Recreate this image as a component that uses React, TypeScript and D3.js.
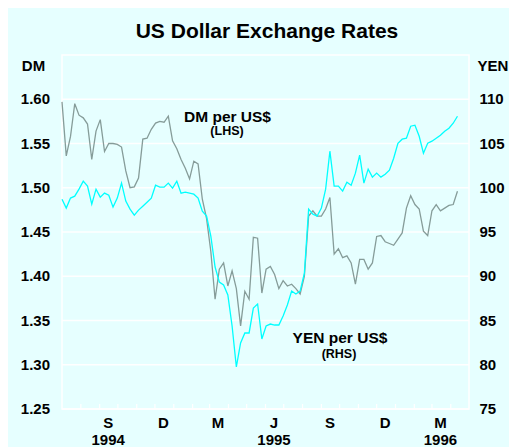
import React from "react";
import * as d3 from "d3";

const width = 509;
const height = 439;
const plot = { left: 54, right: 461, top: 47, bottom: 401 };

// weekly observations starting 1 July 1994
const startDate = new Date(1994, 6, 1);
const endDate = new Date(1996, 4, 1);

const dmPerUsd = [
  1.597, 1.536, 1.558, 1.595, 1.582, 1.579, 1.572, 1.532, 1.564, 1.577,
  1.541, 1.55, 1.55, 1.549, 1.546, 1.519, 1.5, 1.501, 1.511, 1.555,
  1.556, 1.566, 1.573, 1.575, 1.574, 1.581, 1.553, 1.544, 1.532, 1.522,
  1.51, 1.53, 1.527, 1.487, 1.465, 1.428, 1.374, 1.408, 1.415, 1.389,
  1.406, 1.386, 1.344, 1.383, 1.374, 1.444, 1.443, 1.381, 1.408, 1.411,
  1.402, 1.386, 1.395, 1.389, 1.391, 1.386, 1.38, 1.4, 1.468, 1.474,
  1.468, 1.468, 1.476, 1.489, 1.425, 1.431, 1.421, 1.423, 1.415, 1.391,
  1.419, 1.419, 1.408, 1.415, 1.445, 1.446, 1.439, 1.437, 1.435, 1.442,
  1.449, 1.477, 1.491, 1.481, 1.476, 1.451, 1.446, 1.474, 1.481, 1.474,
  1.477, 1.48, 1.481, 1.496,
];

const yenPerUsd = [
  98.71, 97.7, 98.83, 99.05, 99.84, 100.74, 100.18, 98.15, 99.84, 98.94,
  99.39, 99.16, 97.81, 98.83, 100.52, 98.49, 97.58, 96.91, 97.47, 97.92,
  98.37, 98.83, 100.29, 100.07, 100.07, 100.52, 99.95, 100.74, 99.39, 99.5,
  99.39, 99.27, 98.83, 97.36, 96.8, 94.54, 91.04, 89.34, 89.01, 87.88,
  84.38, 79.75, 82.46, 83.59, 83.59, 86.41, 86.86, 82.91, 84.38, 84.6,
  84.49, 84.49, 85.51, 86.75, 88.33, 87.99, 88.33, 90.36, 97.58, 97.02,
  96.8, 97.7, 99.84, 104.13, 100.18, 100.18, 99.62, 100.63, 100.29, 101.65,
  103.68, 100.52, 102.1, 101.2, 101.65, 101.2, 101.53, 101.99, 103.34, 105.03,
  105.49, 105.6, 106.95, 107.07, 105.82, 103.9, 105.03, 105.26, 105.6, 105.94,
  106.39, 106.73, 107.29, 108.08,
];

const dmTicks = [1.25, 1.3, 1.35, 1.4, 1.45, 1.5, 1.55, 1.6];
const yenTicks = [75, 80, 85, 90, 95, 100, 105, 110];
const monthLabels = ["S", "D", "M", "J", "S", "D", "M"];
const yearLabels = ["1994", "", "", "1995", "", "", "1996"];

const font = "'Liberation Sans', Arial, sans-serif";

export default function App() {
  const xScale = d3
    .scaleTime()
    .domain([startDate, endDate])
    .range([plot.left, plot.right]);
  const yLeft = d3
    .scaleLinear()
    .domain([1.25, 1.65])
    .range([plot.bottom, plot.top]);
  const yRight = d3
    .scaleLinear()
    .domain([75, 115])
    .range([plot.bottom, plot.top]);

  const weekDate = (i: number) => d3.timeDay.offset(startDate, i * 7);

  const dmLine = d3
    .line<number>()
    .x((d, i) => xScale(weekDate(i)))
    .y(d => yLeft(d));
  const yenLine = d3
    .line<number>()
    .x((d, i) => xScale(weekDate(i)))
    .y(d => yRight(d));

  const monthTicks = d3.timeMonth.range(new Date(1994, 7, 1), endDate);
  // every third month from September 1994
  const labelMonths = d3.timeMonth.range(
    new Date(1994, 8, 1),
    new Date(1996, 3, 1),
    3
  );

  return (
    <svg width={width} height={height} style={{ display: "block" }}>
      <rect x={0} y={0} width={width} height={height} fill="#e6ffff" />
      <text
        x={259}
        y={29.5}
        textAnchor="middle"
        fontFamily={font}
        fontWeight="bold"
        fontSize={21}
      >
        US Dollar Exchange Rates
      </text>
      <text x={25.5} y={63} textAnchor="middle" fontFamily={font} fontWeight="bold" fontSize={15}>
        DM
      </text>
      <text x={485} y={63} textAnchor="middle" fontFamily={font} fontWeight="bold" fontSize={15}>
        YEN
      </text>

      {dmTicks.map(t => (
        <g key={t}>
          <line
            x1={plot.left}
            x2={plot.right}
            y1={yLeft(t)}
            y2={yLeft(t)}
            stroke="#ffffff"
            strokeWidth={1.3}
          />
          <text
            x={42}
            y={yLeft(t) + 5}
            textAnchor="end"
            fontFamily={font}
            fontWeight="bold"
            fontSize={15}
          >
            {t.toFixed(2)}
          </text>
        </g>
      ))}
      {yenTicks.map(t => (
        <text
          key={t}
          x={471.5}
          y={yRight(t) + 5}
          fontFamily={font}
          fontWeight="bold"
          fontSize={15}
        >
          {t}
        </text>
      ))}

      <rect
        x={plot.left}
        y={plot.top}
        width={plot.right - plot.left}
        height={plot.bottom - plot.top}
        fill="none"
        stroke="#ffffff"
        strokeWidth={1.5}
      />
      {monthTicks.map((m, i) => (
        <line
          key={i}
          x1={xScale(m)}
          x2={xScale(m)}
          y1={plot.bottom}
          y2={plot.bottom - 5}
          stroke="#ffffff"
          strokeWidth={1.2}
        />
      ))}

      {labelMonths.map((m, i) => {
        const x = xScale(d3.timeDay.offset(m, 14));
        return (
          <g key={i} fontFamily={font} fontWeight="bold" fontSize={15} textAnchor="middle">
            <text x={x} y={420}>
              {monthLabels[i]}
            </text>
            {yearLabels[i] && (
              <text x={x} y={437}>
                {yearLabels[i]}
              </text>
            )}
          </g>
        );
      })}

      <path d={dmLine(dmPerUsd) || ""} fill="none" stroke="#869c99" strokeWidth={1.3} />
      <path d={yenLine(yenPerUsd) || ""} fill="none" stroke="#00ffff" strokeWidth={1.3} />

      <g fontFamily={font} fontWeight="bold" textAnchor="middle">
        <text x={219.5} y={114} fontSize={15.5}>
          DM per US$
        </text>
        <text x={219} y={127} fontSize={12.5}>
          (LHS)
        </text>
        <text x={332} y={335} fontSize={15.5}>
          YEN per US$
        </text>
        <text x={331} y={350} fontSize={12.5}>
          (RHS)
        </text>
      </g>
    </svg>
  );
}
